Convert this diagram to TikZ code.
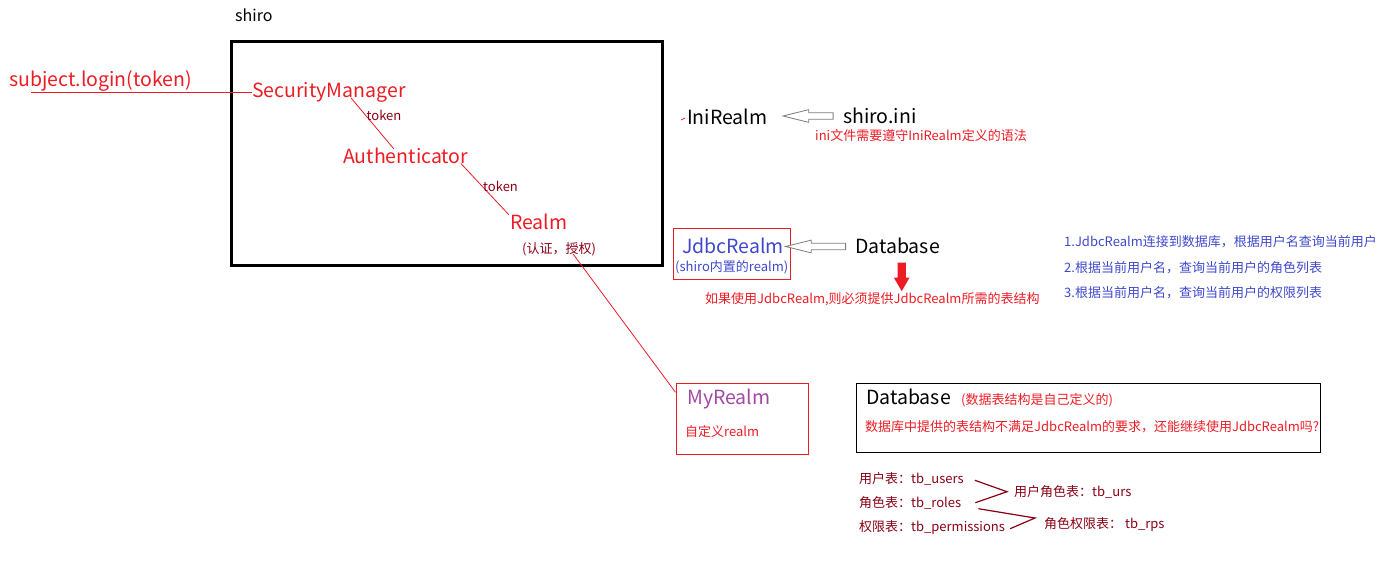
\documentclass[tikz,border=0pt]{standalone}
\usepackage{fontspec}
\setmainfont{Noto Sans CJK SC}
\usetikzlibrary{positioning, shapes, shapes.arrows}

\definecolor{pred}{HTML}{ED1C24}
\definecolor{pdarkred}{HTML}{880015}
\definecolor{pblue}{HTML}{3F48CC}
\definecolor{ppurple}{HTML}{A349A4}
\definecolor{pgray}{HTML}{7F7F7F}

\tikzset{
    txt/.style={inner sep=0pt, anchor=west},
    big/.style={txt, text height=14.2pt, text depth=0pt, font=\fontsize{19.5}{19.5}\selectfont},
    small/.style={txt, text height=9.5pt, text depth=0pt, font=\fontsize{13}{13}\selectfont},
    hollowarrow/.style={
        single arrow,
        draw=pgray,
        fill=white,
        line width=0.8pt,
        inner sep=0pt,
        inner ysep=2.8pt,
        single arrow head extend=3.2pt,
        single arrow tip angle=28,
        rotate=180,
        anchor=tail},
    link/.style={draw=pred, line width=0.8pt}
}

\begin{document}
\begin{tikzpicture}[x=1pt, y=-1pt]
    \useasboundingbox (0,0) rectangle (1379,570);

    % shiro box
    \node[txt, text height=11.6pt, text depth=0pt, font=\fontsize{16}{16}\selectfont] (shiro) at (235,16) {shiro};
    \node[
        draw,
        line width=3pt,
        minimum width=430.5pt,
        minimum height=223.7pt,
        anchor=north west] (shirobox) at (230,40) {};

    \node[big, text=pred] (login) at (9,79) {subject.login(token)};
    \node[big, text=pred] (sm) at (252,90.5) {SecurityManager};
    \node[big, text=pred] (auth) at (343,156) {Authenticator};
    \node[big, text=pred] (realm) at (510,222) {Realm};
    \node[small, text=pdarkred] (realmnote) at (522,249) {(认证，授权)};

    \coordinate (loginstart) at (31,92);
    \draw[link] (loginstart) -- (loginstart -| sm.west);
    \draw[link] ([xshift=22pt]sm.south) -- ([xshift=-12pt]auth.north)
    node[small, text=pdarkred, pos=0.36]{token};
    \draw[link] ([xshift=55pt]auth.south) -- ([xshift=-30pt]realm.north)
    node[small, text=pdarkred, pos=0.46]{token};

    % IniRealm
    \node[big] (inirealm) at (687,117) {IniRealm};
    \draw[link] ([xshift=-6pt, yshift=-3pt]inirealm.west) -- ([xshift=-2pt, yshift=-1pt]inirealm.west);
    \node[big] (shiroini) at (843,116) {shiro.ini};
    \node[hollowarrow, minimum height=50pt] (iniarrow) at ([xshift=-9.5pt]shiroini.west) {};
    \node[small, text=pred] (ininote) at (815,136) {ini文件需要遵守IniRealm定义的语法};

    % JdbcRealm
    \node[
        draw=pred,
        minimum width=117pt,
        minimum height=51pt,
        anchor=north west] (jdbcbox) at (673,228) {};
    \node[big, text=pblue] (jdbc) at (682,246.5) {JdbcRealm};
    \node[small, text=pblue] (jdbcnote) at (675,267) {(shiro内置的realm)};
    \node[big] (db1) at (855,246.5) {Database};
    \node[hollowarrow, minimum height=60pt] (dbarrow) at ([xshift=-9pt]db1.west) {};
    \node[
        single arrow,
        fill=pred,
        inner sep=0pt,
        inner ysep=4pt,
        single arrow head extend=3.7pt,
        single arrow tip angle=60,
        minimum height=28.5pt,
        rotate=270] (downarrow) at (901.7,273.3) {};
    \node[small, text=pred] (jdbcwarn) at (705,299) {如果使用JdbcRealm,则必须提供JdbcRealm所需的表结构};

    \node[small, text=pblue] (step1) at (1064,242) {1.JdbcRealm连接到数据库，根据用户名查询当前用户};
    \node[small, text=pblue] (step2) at (1064,267.5) {2.根据当前用户名，查询当前用户的角色列表};
    \node[small, text=pblue] (step3) at (1064,292.5) {3.根据当前用户名，查询当前用户的权限列表};

    % MyRealm
    \node[
        draw=pred,
        minimum width=132pt,
        minimum height=71pt,
        anchor=north west] (myrealmbox) at (675.5,383.3) {};
    \node[big, text=ppurple] (myrealm) at (687,397.3) {MyRealm};
    \node[small, text=pred] (myrealmnote) at (685,432) {自定义realm};
    \draw[link] ([xshift=14pt]realmnote.south) -- ([yshift=-9pt]myrealmbox.north west);

    % Database
    \node[
        draw,
        minimum width=464pt,
        minimum height=69.5pt,
        anchor=north west] (dbbox) at (856.4,382.7) {};
    \node[big] (db2) at (866,397.3) {Database};
    \node[small, text=pred] (db2note) at (961,400) {(数据表结构是自己定义的)};
    \node[small, text=pred] (db2ask) at (865,426.7) {数据库中提供的表结构不满足JdbcRealm的要求，还能继续使用JdbcRealm吗?};

    % tables
    \node[small, text=pdarkred] (users) at (859,478.3) {用户表：tb\_users};
    \node[small, text=pdarkred] (roles) at (859,502.7) {角色表：tb\_roles};
    \node[small, text=pdarkred] (perms) at (859,526.7) {权限表：tb\_permissions};
    \node[small, text=pdarkred] (urs) at (1014,491.7) {用户角色表：tb\_urs};
    \node[small, text=pdarkred] (rps) at (1044,524) {角色权限表： tb\_rps};

    \draw[pdarkred, line width=1.2pt] ([xshift=11pt, yshift=-2pt]users.east) -- ([xshift=-7pt]urs.west)
    -- ([xshift=14pt]roles.east);
    \draw[pdarkred, line width=1.2pt] ([xshift=17pt, yshift=-6pt]roles.east) -- ([xshift=-9pt, yshift=6pt]rps.west)
    -- ([xshift=5pt, yshift=-2pt]perms.east);
\end{tikzpicture}
\end{document}
